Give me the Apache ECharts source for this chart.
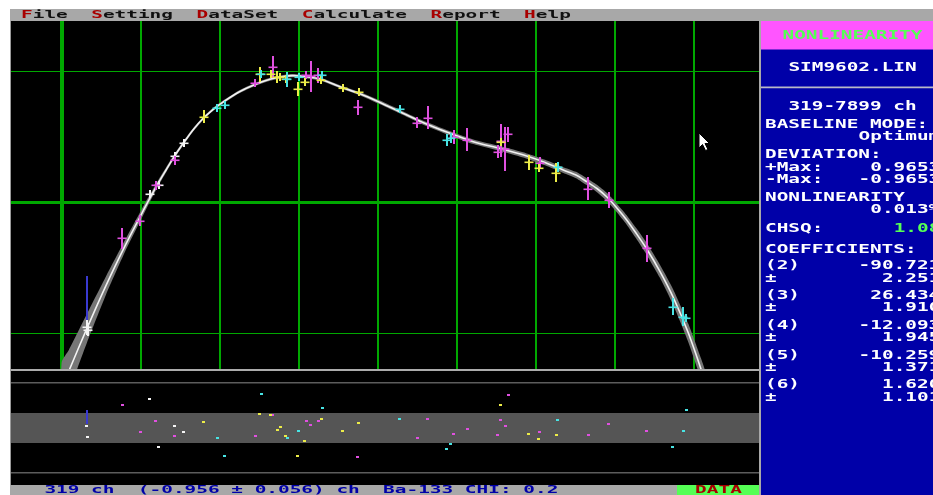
<!DOCTYPE html>
<html>
<head>
<meta charset="utf-8">
<script src="https://cdn.jsdelivr.net/npm/echarts@6/dist/echarts.min.js"></script>
<style>
  html, body { margin: 0; padding: 0; background: #fff; }
  #chart { width: 933px; height: 495px; }
</style>
</head>
<body>
<div id="chart"></div>
<script>
// ---- Fitted nonlinearity curve: channel, deviation (ch) and 1-sigma band half-width ----
const fitChannels  = [0, 92, 319, 560, 801, 982, 1108, 1218, 1320, 1421, 1538, 1661, 1788, 1914, 2041, 2243, 2446, 2635, 2825, 2920, 3015, 3268, 3521, 3774, 4027, 4280, 4533, 4913, 5208, 5545, 5883, 6115, 6346, 6507, 6642, 6772, 6895, 7013, 7148, 7266, 7396, 7570, 7738, 7928, 8076, 8139];
const fitDeviation = [-1.424, -1.288, -0.965, -0.638, -0.335, -0.124, 0.021, 0.141, 0.244, 0.344, 0.448, 0.550, 0.637, 0.706, 0.763, 0.840, 0.897, 0.937, 0.960, 0.965, 0.962, 0.939, 0.880, 0.826, 0.760, 0.689, 0.617, 0.524, 0.460, 0.408, 0.351, 0.302, 0.244, 0.206, 0.155, 0.103, 0.040, -0.038, -0.137, -0.237, -0.353, -0.531, -0.729, -1.000, -1.253, -1.374];
const fitBand      = [0.200, 0.160, 0.110, 0.070, 0.045, 0.035, 0.028, 0.022, 0.019, 0.016, 0.015, 0.013, 0.012, 0.012, 0.012, 0.012, 0.012, 0.012, 0.012, 0.012, 0.012, 0.012, 0.012, 0.013, 0.014, 0.014, 0.015, 0.016, 0.018, 0.019, 0.020, 0.021, 0.022, 0.024, 0.026, 0.028, 0.030, 0.033, 0.036, 0.040, 0.045, 0.050, 0.060, 0.070, 0.080, 0.085];

// ---- Calibration peaks, one group per source colour ----
const whiteCh  = [319, 330, 1117, 1231, 1433, 1543];
const whiteDev = [-0.956, -0.978, 0.059, 0.127, 0.351, 0.448];
const whiteErr = [0.056, 0.050, 0.020, 0.020, 0.020, 0.020];
const whiteRes = [0.12, -0.61, 1.90, -1.28, 0.08, -0.28];

const magentaCh  = [767, 991, 1189, 1433, 2449, 2670, 3095, 3150, 3246, 3745, 4499, 4631, 4963, 5128, 5516, 5554, 5609, 5647, 6051, 6662, 6921, 7401];
const magentaDev = [-0.277, -0.143, 0.130, 0.321, 0.906, 1.028, 0.969, 0.962, 0.969, 0.723, 0.601, 0.639, 0.494, 0.473, 0.384, 0.462, 0.405, 0.519, 0.295, 0.097, 0.015, -0.353];
const magentaErr = [0.080, 0.042, 0.034, 0.034, 0.027, 0.084, 0.030, 0.118, 0.057, 0.057, 0.042, 0.088, 0.053, 0.088, 0.050, 0.126, 0.168, 0.057, 0.046, 0.088, 0.061, 0.103];
const magentaRes = [1.50, -0.28, 0.41, -0.55, -0.55, 0.81, 0.41, 0.15, 0.45, -1.97, -0.68, 0.55, -0.41, -0.12, -0.48, 0.48, 0.12, 2.19, -0.28, -0.48, 0.21, -0.21];

const yellowCh  = [1800, 2505, 2644, 2724, 2762, 2834, 2986, 3074, 3281, 3555, 3761, 5554, 5908, 6035, 6254];
const yellowDev = [0.651, 0.975, 0.977, 0.952, 0.956, 0.939, 0.860, 0.918, 0.931, 0.873, 0.842, 0.460, 0.308, 0.257, 0.224];
const yellowErr = [0.050, 0.057, 0.030, 0.046, 0.030, 0.030, 0.053, 0.030, 0.030, 0.030, 0.030, 0.020, 0.057, 0.030, 0.073];
const yellowRes = [0.35, 0.88, 0.81, -0.15, 0.05, -0.55, -1.90, -0.88, 0.55, -0.21, 0.28, 1.50, -0.41, -0.75, -0.48];

const cyanCh  = [1969, 2062, 2522, 2854, 3002, 3297, 4280, 4871, 4925, 6275, 7734, 7865, 7899];
const cyanDev = [0.715, 0.743, 0.975, 0.937, 0.956, 0.969, 0.708, 0.473, 0.486, 0.269, -0.799, -0.876, -0.888];
const cyanErr = [0.027, 0.027, 0.030, 0.057, 0.030, 0.030, 0.030, 0.046, 0.038, 0.038, 0.065, 0.073, 0.030];
const cyanRes = [-0.68, -1.90, 2.23, -0.68, -0.21, 1.28, 0.55, -1.43, -1.08, 0.48, -1.28, -0.21, 1.17];

// ---- Grid / reference lines ----
const gridChannels  = [0, 1000, 2000, 3000, 4000, 5000, 6000, 7000, 8000];
const gridDeviation = [-1, 0, 1];
const residualBand  = [-1, 1];
const residualLimits = [-3, 3];

// ---- Selected peak (cursor) ----
const selIndex = 0;
const selSource = 'Ba-133';
const selChi = 0.2;

// ---- Side panel contents ----
const fileName = 'SIM9602.LIN';
const baselineMode = 'Optimum';
const devMax = '0.9653';
const devMin = '-0.9653';
const nonlinearity = '0.013%';
const chsq = '1.08';
const coefLabels = ['(2)', '(3)', '(4)', '(5)', '(6)'];
const coefValues = ['-90.721', '26.434', '-12.093', '-10.259', '1.620'];
const coefErrors = ['2.251', '1.910', '1.945', '1.371', '1.101'];

const menuItems = ['File', 'Setting', 'DataSet', 'Calculate', 'Report', 'Help'];

// ---- Colours (EGA palette) ----
const GREEN = '#00a800';
const COLORS = { white: '#f4f4f4', magenta: '#e050e0', yellow: '#ecec48', cyan: '#48e4e4' };

const groups = [
  { name: 'white',   ch: whiteCh,   dev: whiteDev,   err: whiteErr,   res: whiteRes },
  { name: 'magenta', ch: magentaCh, dev: magentaDev, err: magentaErr, res: magentaRes },
  { name: 'yellow',  ch: yellowCh,  dev: yellowDev,  err: yellowErr,  res: yellowRes },
  { name: 'cyan',    ch: cyanCh,    dev: cyanDev,    err: cyanErr,    res: cyanRes }
];

const selCh = whiteCh[selIndex], selDev = whiteDev[selIndex], selErr = whiteErr[selIndex], selRes = whiteRes[selIndex];
const allCh = [].concat(whiteCh, magentaCh, yellowCh, cyanCh);

const chart = echarts.init(document.getElementById('chart'), null, { renderer: 'canvas', width: 933, height: 495 });

// Error-bar cross for each peak, snapped to whole pixels
function crossItem(params, api) {
  const ch = api.value(0), v = api.value(1), e = api.value(2);
  const c = api.coord([ch, v]);
  const top = api.coord([ch, v + e])[1];
  const bot = api.coord([ch, v - e])[1];
  const up = Math.max(c[1] - top, 4), dn = Math.max(bot - c[1], 4);
  const cx = Math.round(c[0]), cy = Math.round(c[1]);
  const color = api.visual('color');
  return {
    type: 'group',
    children: [
      { type: 'rect', shape: { x: cx - 1, y: Math.round(cy - up), width: 2, height: Math.round(up + dn) }, style: { fill: color } },
      { type: 'rect', shape: { x: cx - 4.5, y: cy - 0.5, width: 9, height: 1.6 }, style: { fill: color } }
    ]
  };
}

// Residual dot, snapped to whole pixels
function dotItem(params, api) {
  const p = api.coord([api.value(0), api.value(1)]);
  return { type: 'rect', shape: { x: Math.round(p[0] - 1.5), y: Math.round(p[1] - 1), width: 3, height: 2 }, style: { fill: api.visual('color') } };
}

const series = [];

// green grid: vertical lines
series.push({
  type: 'custom', xAxisIndex: 0, yAxisIndex: 0, z: 1, silent: true, clip: true,
  data: gridChannels.map(c => [c, 0]),
  renderItem(params, api) {
    const cs = params.coordSys;
    const x = api.coord([api.value(0), 0])[0];
    const w = api.value(0) === 0 ? 4 : 2;
    return { type: 'rect', shape: { x: Math.round(x - w / 2), y: cs.y, width: w, height: cs.height }, style: { fill: GREEN } };
  }
});
// green grid: horizontal lines
series.push({
  type: 'custom', xAxisIndex: 0, yAxisIndex: 0, z: 1, silent: true, clip: true,
  data: gridDeviation.map(v => [0, v]),
  renderItem(params, api) {
    const cs = params.coordSys;
    const y = api.coord([0, api.value(1)])[1];
    const h = api.value(1) === 0 ? 3 : 1;
    return { type: 'rect', shape: { x: cs.x, y: Math.round(y - h / 2), width: cs.width, height: h }, style: { fill: GREEN } };
  }
});
// fit uncertainty band
series.push({
  type: 'custom', xAxisIndex: 0, yAxisIndex: 0, z: 2, silent: true, clip: true,
  data: [[fitChannels[0], fitDeviation[0]]],
  renderItem(params, api) {
    const upper = fitChannels.map((c, i) => api.coord([c, fitDeviation[i] + fitBand[i]]));
    const lower = fitChannels.map((c, i) => api.coord([c, fitDeviation[i] - fitBand[i]])).reverse();
    return { type: 'polygon', shape: { points: upper.concat(lower), smooth: 0.2 }, style: { fill: '#767676' } };
  }
});
// fit curve
series.push({
  type: 'line', xAxisIndex: 0, yAxisIndex: 0, z: 3, silent: true,
  data: fitChannels.map((c, i) => [c, fitDeviation[i]]),
  showSymbol: false, smooth: 0.25,
  lineStyle: { color: '#f2f2f2', width: 1.6 }
});
// peaks with error bars
groups.forEach(g => {
  series.push({
    type: 'custom', name: g.name, xAxisIndex: 0, yAxisIndex: 0, z: 4, silent: true, clip: true,
    itemStyle: { color: COLORS[g.name] },
    data: g.ch.map((c, i) => [c, g.dev[i], g.err[i]]),
    renderItem: crossItem
  });
});
// residual panel band and ±3 sigma lines
series.push({
  type: 'custom', xAxisIndex: 1, yAxisIndex: 1, z: 1, silent: true, clip: true,
  data: [[0, residualBand[0], residualBand[1]]],
  renderItem(params, api) {
    const cs = params.coordSys;
    const y1 = api.coord([0, api.value(2)])[1];
    const y2 = api.coord([0, api.value(1)])[1];
    return { type: 'rect', shape: { x: cs.x, y: Math.round(y1), width: cs.width, height: Math.round(y2 - y1) }, style: { fill: '#555555' } };
  }
});
series.push({
  type: 'custom', xAxisIndex: 1, yAxisIndex: 1, z: 1, silent: true, clip: true,
  data: residualLimits.map(v => [0, v]),
  renderItem(params, api) {
    const cs = params.coordSys;
    const y = api.coord([0, api.value(1)])[1];
    return { type: 'rect', shape: { x: cs.x, y: Math.round(y - 0.5), width: cs.width, height: 1.5 }, style: { fill: '#5c5c5c' } };
  }
});
// residual dots
groups.forEach(g => {
  series.push({
    type: 'custom', name: g.name + ' residual', xAxisIndex: 1, yAxisIndex: 1, z: 4, silent: true, clip: true,
    itemStyle: { color: COLORS[g.name] },
    data: g.ch.map((c, i) => [c, g.res[i]]),
    renderItem: dotItem
  });
});
// cursor on the selected peak (main plot)
series.push({
  type: 'custom', xAxisIndex: 0, yAxisIndex: 0, z: 5, silent: true, clip: true,
  data: [[selCh, selDev, selErr]],
  renderItem(params, api) {
    const top = api.coord([api.value(0), api.value(1) + api.value(2)]);
    return { type: 'rect', shape: { x: Math.round(top[0]) - 1, y: Math.round(top[1]) - 44, width: 2, height: 44 }, style: { fill: '#3a3ad0' } };
  }
});
// cursor on the selected peak (residual panel)
series.push({
  type: 'custom', xAxisIndex: 1, yAxisIndex: 1, z: 5, silent: true, clip: true,
  data: [[selCh, selRes]],
  renderItem(params, api) {
    const p = api.coord([api.value(0), api.value(1)]);
    return { type: 'rect', shape: { x: Math.round(p[0]) - 1, y: Math.round(p[1]) - 16, width: 2, height: 14 }, style: { fill: '#3a3ad0' } };
  }
});

// ---- Text in the DOS-style character grid ----
const CW = 11.7;
function dosText(x, y, text, fill, big) {
  return {
    type: 'text', x: x, y: y, z: 20, silent: true,
    scaleX: big ? 1.49 : 1.94,
    style: {
      text: text, fill: fill,
      font: big ? 'bold 13px "DejaVu Sans Mono"' : 'bold 10px "DejaVu Sans Mono"',
      align: 'left', verticalAlign: 'middle', textAlign: 'left', textVerticalAlign: 'middle'
    }
  };
}

const graphics = [];
// menu bar
graphics.push({ type: 'rect', z: 10, silent: true, shape: { x: 10, y: 9, width: 923, height: 12 }, style: { fill: '#a8a8a8' } });
const menuLine = menuItems.join('  ');
let col = 0;
menuItems.forEach(item => {
  const idx = menuLine.indexOf(item, col);
  graphics.push(dosText(21 + idx * CW, 15, item[0], '#a80000', false));
  graphics.push(dosText(21 + (idx + 1) * CW, 15, item.slice(1), '#101010', false));
  col = idx + item.length;
});
// left border of plot panels
graphics.push({ type: 'rect', z: 10, silent: true, shape: { x: 10, y: 21, width: 1, height: 464 }, style: { fill: '#9a9a9a' } });
// separator between main plot and residual panel
graphics.push({ type: 'rect', z: 10, silent: true, shape: { x: 11, y: 369, width: 749, height: 2 }, style: { fill: '#ababab' } });
// status bar
graphics.push({ type: 'rect', z: 10, silent: true, shape: { x: 10, y: 485, width: 667, height: 10 }, style: { fill: '#a8a8a8' } });
graphics.push({ type: 'rect', z: 10, silent: true, shape: { x: 677, y: 485, width: 83, height: 10 }, style: { fill: '#55ff55' } });
const statusText = selCh + ' ch  (' + selDev.toFixed(3) + ' ± ' + selErr.toFixed(3) + ') ch  ' + selSource + ' CHI: ' + selChi.toFixed(1);
graphics.push(dosText(44.4, 490.5, statusText, '#0000a8', false));
graphics.push(dosText(718.5 - 2 * CW, 490.5, 'DATA', '#a80000', false));

// side panel
graphics.push({ type: 'rect', z: 10, silent: true, shape: { x: 760, y: 21, width: 173, height: 474 }, style: { fill: '#0000a8' } });
graphics.push({ type: 'rect', z: 11, silent: true, shape: { x: 761, y: 21, width: 172, height: 28.5 }, style: { fill: '#ff55ff' } });
graphics.push({ type: 'rect', z: 11, silent: true, shape: { x: 759, y: 21, width: 2, height: 474 }, style: { fill: '#a8a8a8' } });
graphics.push({ type: 'rect', z: 11, silent: true, shape: { x: 761, y: 86.5, width: 172, height: 1.8 }, style: { fill: '#b8b8c8' } });

const PX = 765;
const W = '#ffffff';
const panelRows = [
  [36,    1.5, 'NONLINEARITY', '#55ff55'],
  [68,    2,   fileName, W],
  [106.7, 2,   Math.min.apply(null, allCh) + '-' + Math.max.apply(null, allCh) + ' ch', W],
  [124.3, 0,   'BASELINE MODE:', W],
  [136.7, 8,   baselineMode, W],
  [155,   0,   'DEVIATION:', W],
  [167.3, 0,   '+Max:', W],
  [167.3, 9,   devMax, W],
  [179.3, 0,   '-Max:', W],
  [179.3, 8,   devMin, W],
  [197.3, 0,   'NONLINEARITY', W],
  [210,   9,   nonlinearity, W],
  [229,   0,   'CHSQ:', W],
  [229,   11,  chsq, '#55ff55'],
  [249.3, 0,   'COEFFICIENTS:', W]
];
coefLabels.forEach((lab, i) => {
  const y = 266 + i * 29.75;
  const v = coefValues[i];
  panelRows.push([y, 0, lab, W]);
  panelRows.push([y, 15 - v.length, v, W]);
  panelRows.push([y + 12.3, 0, '±', W]);
  panelRows.push([y + 12.3, 15 - coefErrors[i].length, coefErrors[i], W]);
});
panelRows.forEach(r => graphics.push(dosText(PX + r[1] * CW, r[0], r[2], r[3], true)));

// mouse pointer
graphics.push({
  type: 'polygon', z: 30, silent: true, x: 699, y: 133,
  shape: { points: [[0, 0], [0, 15], [3.5, 11.5], [6.5, 17.5], [9, 16.5], [6, 10.5], [10.5, 10.5]] },
  style: { fill: '#ffffff', stroke: '#000000', lineWidth: 1 }
});

chart.setOption({
  animation: false,
  backgroundColor: '#ffffff',
  grid: [
    { left: 11, top: 21, width: 749, height: 348, show: true, backgroundColor: '#000000', borderWidth: 0 },
    { left: 11, top: 371, width: 749, height: 114, show: true, backgroundColor: '#000000', borderWidth: 0 }
  ],
  xAxis: [
    { type: 'value', gridIndex: 0, min: -641.4, max: 8834.7, show: false },
    { type: 'value', gridIndex: 1, min: -641.4, max: 8834.7, show: false }
  ],
  yAxis: [
    { type: 'value', gridIndex: 0, min: -1.2748, max: 1.3817, show: false },
    { type: 'value', gridIndex: 1, min: -3.833, max: 3.767, show: false }
  ],
  series: series,
  graphic: { elements: graphics }
});
</script>
</body>
</html>
